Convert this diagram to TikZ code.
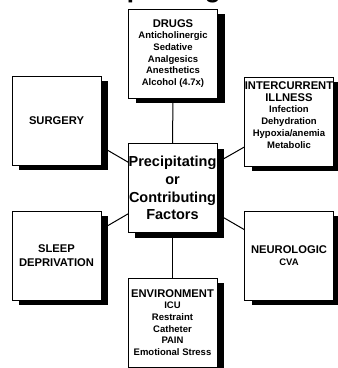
\documentclass[tikz,border=0pt]{standalone}
\usepackage{fontspec}
\setmainfont{Liberation Sans}
\usepackage{tikz}
\usetikzlibrary{positioning,shadows,backgrounds}

\newcommand{\hd}{\fontsize{11.2}{12.3}\selectfont}
\newcommand{\itm}{\fontsize{9.5}{11.7}\selectfont}

\tikzset{
  factorbox/.style={draw=black, line width=0.6pt, fill=white,
    minimum width=89pt, minimum height=89pt, inner sep=0pt,
    align=center, font=\bfseries\itm,
    drop shadow={shadow xshift=7.5pt, shadow yshift=-5pt, fill=black, opacity=1}},
  link/.style={line width=1pt}
}

\begin{document}
\begin{tikzpicture}[x=1pt,y=-1pt]

  \useasboundingbox (0,0) rectangle (338,368);

  \node[font=\bfseries\fontsize{26}{26}\selectfont, anchor=base west, inner sep=0pt] (title) at (63,-3) {Precipitating};

  \node[factorbox, font=\bfseries\fontsize{14.5}{17.7}\selectfont] (factors) at (172.5,188) {Precipitating\\or\\Contributing\\Factors};

  \node[factorbox] (drugs) at (173,53.5) {{\hd DRUGS}\\Anticholinergic\\Sedative\\Analgesics\\Anesthetics\\Alcohol (4.7x)};
  \node[factorbox] (surgery) at (56.5,120.5) {\hd SURGERY};
  \node[factorbox] (illness) at (289,121.5) {};
  \node[anchor=north, inner sep=0pt, align=center, font=\bfseries\itm] (illness text) at (289,81.5)
    {{\hd INTERCURRENT}\\{\hd ILLNESS}\\Infection\\Dehydration\\Hypoxia/anemia\\Metabolic};
  \node[factorbox, font=\bfseries\fontsize{11.2}{14.5}\selectfont] (sleep) at (56.5,255.5) {SLEEP\\DEPRIVATION};
  \node[factorbox] (neuro) at (289,255.5) {{\hd NEUROLOGIC}\\CVA};
  \node[factorbox] (env) at (172.5,322.5) {{\hd ENVIRONMENT}\\ICU\\Restraint\\Catheter\\PAIN\\Emotional Stress};

  \begin{scope}[on background layer]
    \foreach \f in {drugs,surgery,illness,sleep,neuro,env}
      \draw[link] (factors.center) -- (\f.center);
  \end{scope}
\end{tikzpicture}
\end{document}
